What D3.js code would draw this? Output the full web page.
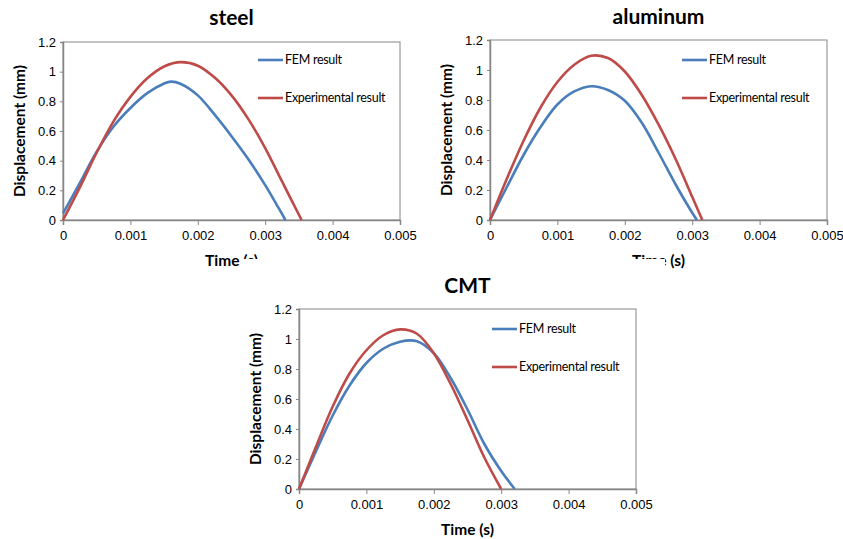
<!DOCTYPE html>
<html>
<head>
<meta charset="utf-8">
<script src="https://cdn.jsdelivr.net/npm/d3@7"></script>
<style>
  body { margin: 0; background: #fff; }
  svg { display: block; font-family: Lato, "Open Sans", sans-serif; }
  .tick text { font-size: 13px; fill: #000; }
  .axis path, .axis line { stroke: #868686; }
  .ttl { font-size: 21px; font-weight: bold; }
  .axlab { font-size: 15.5px; font-weight: bold; }
  .leg { font-size: 12.5px; letter-spacing: -0.3px; }
</style>
</head>
<body>
<div id="chart"></div>
<script>
(function() {
  // time ticks and value ticks shared by all three panels
  var timeTicks = [0, 0.001, 0.002, 0.003, 0.004, 0.005];
  var dispTicks = [0, 0.2, 0.4, 0.6, 0.8, 1, 1.2];
  var seriesNames = ['FEM result', 'Experimental result'];

  // steel
  var steelTime = [0, 0.00025, 0.0005, 0.00075, 0.001, 0.00125, 0.0015, 0.0016, 0.00175, 0.002, 0.00225, 0.0025, 0.00275, 0.003, 0.0032, 0.0033];
  var steelFem = [0.045, 0.25, 0.46, 0.63, 0.755, 0.855, 0.92, 0.933, 0.917, 0.84, 0.71, 0.565, 0.41, 0.235, 0.08, 0];
  var steelExpTime = [0, 0.00025, 0.0005, 0.00075, 0.001, 0.00125, 0.0015, 0.00175, 0.002, 0.00225, 0.0025, 0.00275, 0.003, 0.00325, 0.00354];
  var steelExp = [0, 0.22, 0.455, 0.665, 0.83, 0.955, 1.035, 1.064, 1.04, 0.96, 0.84, 0.68, 0.485, 0.26, 0];

  // aluminum
  var aluTime = [0, 0.00025, 0.0005, 0.00075, 0.001, 0.00125, 0.0015, 0.00175, 0.002, 0.00225, 0.0025, 0.00275, 0.003, 0.00307];
  var aluFem = [0, 0.22, 0.435, 0.62, 0.77, 0.857, 0.892, 0.867, 0.795, 0.65, 0.45, 0.24, 0.048, 0];
  var aluExpTime = [0, 0.00025, 0.0005, 0.00075, 0.001, 0.00125, 0.0015, 0.00175, 0.002, 0.00225, 0.0025, 0.00275, 0.003, 0.00315];
  var aluExp = [0, 0.275, 0.53, 0.75, 0.92, 1.035, 1.095, 1.08, 0.99, 0.835, 0.637, 0.41, 0.155, 0];

  // CMT
  var cmtTime = [0, 0.00025, 0.0005, 0.00075, 0.001, 0.00125, 0.0015, 0.00175, 0.002, 0.00225, 0.0025, 0.00275, 0.003, 0.0032];
  var cmtFem = [0, 0.25, 0.49, 0.69, 0.84, 0.935, 0.982, 0.985, 0.905, 0.74, 0.53, 0.3, 0.12, 0];
  var cmtExpTime = [0, 0.00025, 0.0005, 0.00075, 0.001, 0.00125, 0.0015, 0.00175, 0.002, 0.00225, 0.0025, 0.00275, 0.003];
  var cmtExp = [0, 0.28, 0.55, 0.77, 0.925, 1.025, 1.064, 1.035, 0.905, 0.7, 0.46, 0.21, 0];

  var colors = ['#4a7ebb', '#be4b48'];

  var svg = d3.select('#chart').append('svg')
    .attr('width', 843).attr('height', 539);

  function zip(xs, ys) {
    return xs.map(function(x, i) { return [x, ys[i]]; });
  }

  function drawPanel(cfg) {
    var g = svg.append('g');
    if (cfg.box) {
      g.append('rect')
        .attr('x', cfg.box[0]).attr('y', cfg.box[1])
        .attr('width', cfg.box[2]).attr('height', cfg.box[3])
        .attr('fill', '#fff');
    }
    var x = d3.scaleLinear().domain([0, 0.005]).range([cfg.left, cfg.right]);
    var y = d3.scaleLinear().domain([0, 1.2]).range([cfg.bottom, cfg.top]);

    // plot-area frame
    g.append('rect')
      .attr('x', cfg.left).attr('y', cfg.top)
      .attr('width', cfg.right - cfg.left).attr('height', cfg.bottom - cfg.top)
      .attr('fill', 'none').attr('stroke', '#868686').attr('stroke-width', 1);

    g.append('g').attr('class', 'axis')
      .attr('transform', 'translate(0,' + cfg.bottom + ')')
      .call(d3.axisBottom(x).tickValues(timeTicks).tickSize(5).tickPadding(6)
        .tickFormat(function(d) { return d === 0 ? '0' : d3.format('.3f')(d); }));

    g.append('g').attr('class', 'axis')
      .attr('transform', 'translate(' + cfg.left + ',0)')
      .call(d3.axisLeft(y).tickValues(dispTicks).tickSize(3).tickPadding(4)
        .tickFormat(function(d) { return String(+d.toFixed(1)); }));

    g.selectAll('.axis path').attr('stroke-width', 1.5);

    var line = d3.line()
      .x(function(d) { return x(d[0]); })
      .y(function(d) { return y(d[1]); })
      .curve(d3.curveCatmullRom.alpha(0.5));

    cfg.series.forEach(function(s, i) {
      g.append('path')
        .attr('d', line(s))
        .attr('fill', 'none')
        .attr('stroke', colors[i])
        .attr('stroke-width', 2.6);
    });

    // legend
    seriesNames.forEach(function(name, i) {
      var ly = cfg.legY + i * 38;
      g.append('line')
        .attr('x1', cfg.legX).attr('x2', cfg.legX + 25)
        .attr('y1', ly).attr('y2', ly)
        .attr('stroke', colors[i]).attr('stroke-width', 2.6);
      g.append('text').attr('class', 'leg')
        .attr('x', cfg.legX + 27).attr('y', ly + 4)
        .text(name);
    });

    g.append('text').attr('class', 'ttl')
      .attr('x', (cfg.left + cfg.right) / 2).attr('y', cfg.titleY)
      .attr('text-anchor', 'middle').text(cfg.title);

    g.append('text').attr('class', 'axlab')
      .attr('x', (cfg.left + cfg.right) / 2).attr('y', cfg.bottom + 46)
      .attr('text-anchor', 'middle').text('Time (s)');

    g.append('text').attr('class', 'axlab')
      .attr('transform', 'translate(' + (cfg.left - 38) + ',' + (cfg.top + cfg.bottom) / 2 + ') rotate(-90)')
      .attr('text-anchor', 'middle').text('Displacement (mm)');
  }

  drawPanel({
    title: 'steel', left: 63, right: 400, top: 42, bottom: 220, titleY: 25,
    legX: 258, legY: 60,
    series: [zip(steelTime, steelFem), zip(steelExpTime, steelExp)]
  });

  drawPanel({
    title: 'aluminum', left: 490, right: 827, top: 40, bottom: 220, titleY: 24,
    legX: 682, legY: 60,
    series: [zip(aluTime, aluFem), zip(aluExpTime, aluExp)]
  });

  drawPanel({
    title: 'CMT', left: 299, right: 636, top: 309, bottom: 489, titleY: 293,
    legX: 492, legY: 329, box: [240, 259, 425, 280],
    series: [zip(cmtTime, cmtFem), zip(cmtExpTime, cmtExp)]
  });
})();
</script>
</body>
</html>
